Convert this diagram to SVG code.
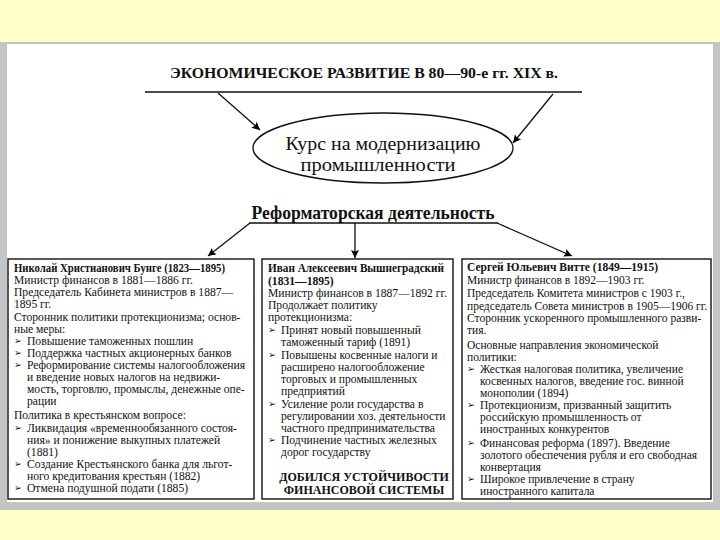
<svg xmlns="http://www.w3.org/2000/svg" width="720" height="540" viewBox="0 0 720 540">
<defs>
<marker id="ah" viewBox="0 0 10 10" refX="10" refY="5" markerWidth="10" markerHeight="8" markerUnits="userSpaceOnUse" orient="auto">
<path d="M0,0 L10,5 L0,10 L2,5 z" fill="#000"/>
</marker>
<style>
.t{font-family:"Liberation Serif","Times New Roman",serif;font-size:11.6px;fill:#111}
.w .t{font-size:11.5px}
.b{font-weight:bold}
.bul{font-family:"DejaVu Sans",sans-serif;font-size:9.5px;fill:#111}
.box{fill:#fff;stroke:#111;stroke-width:1.4}
.ln{stroke:#111;stroke-width:1.3;fill:none}
</style>
</defs>
<rect width="720" height="540" fill="#FFFFCA"/>
<rect x="0" y="42" width="720" height="468" fill="#C4C4C4"/>
<rect x="7" y="44" width="706" height="458" fill="#FFFFFF"/>

<g id="title">
<text x="364" y="78" text-anchor="middle" class="t b" style="font-size:15.5px" textLength="388" lengthAdjust="spacingAndGlyphs">ЭКОНОМИЧЕСКОЕ РАЗВИТИЕ В 80—90-е гг. XIX в.</text>
<line x1="145" y1="92" x2="582" y2="92" class="ln" style="stroke-width:1.6"/>
</g>

<g id="course">
<ellipse cx="383" cy="148" rx="130" ry="35" fill="#fff" stroke="#111" stroke-width="1.3"/>
<text x="383" y="150" text-anchor="middle" class="t" style="font-size:18px" textLength="195" lengthAdjust="spacingAndGlyphs">Курс на модернизацию</text>
<text x="378" y="171" text-anchor="middle" class="t" style="font-size:18px" textLength="155" lengthAdjust="spacingAndGlyphs">промышленности</text>
</g>

<g id="reform">
<text x="373" y="219" text-anchor="middle" class="t b" style="font-size:19px" textLength="243" lengthAdjust="spacingAndGlyphs">Реформаторская деятельность</text>
<line x1="249" y1="223" x2="498" y2="223" class="ln"/>
</g>

<g id="connectors">
<line x1="218" y1="93" x2="260" y2="130" class="ln" marker-end="url(#ah)"/>
<line x1="553" y1="94" x2="513" y2="143" class="ln" marker-end="url(#ah)"/>
<line x1="250" y1="223" x2="208" y2="256" class="ln" marker-end="url(#ah)"/>
<line x1="355" y1="223" x2="355" y2="258" class="ln" marker-end="url(#ah)"/>
<line x1="497" y1="223" x2="572" y2="256" class="ln" marker-end="url(#ah)"/>
</g>

<g id="bunge">
<rect x="8" y="259" width="246" height="240" class="box"/>
<text class="t b" x="14" y="272" textLength="211" lengthAdjust="spacingAndGlyphs">Николай Христианович Бунге (1823—1895)</text>
<text class="t" x="14" y="284">Министр финансов в 1881—1886 гг.</text>
<text class="t" x="14" y="296">Председатель Кабинета министров в 1887—</text>
<text class="t" x="14" y="308">1895 гг.</text>
<text class="t" x="14" y="321">Сторонник политики протекционизма; основ-</text>
<text class="t" x="14" y="333">ные меры:</text>
<text class="bul" x="14" y="344">➢</text><text class="t" x="27" y="345">Повышение таможенных пошлин</text>
<text class="bul" x="14" y="356">➢</text><text class="t" x="27" y="357">Поддержка частных акционерных банков</text>
<text class="bul" x="14" y="368">➢</text><text class="t" x="27" y="369">Реформирование системы налогообложения</text>
<text class="t" x="27" y="381">и введение новых налогов на недвижи-</text>
<text class="t" x="27" y="393">мость, торговлю, промыслы, денежные опе-</text>
<text class="t" x="27" y="405">рации</text>
<text class="t" x="14" y="419">Политика в крестьянском вопросе:</text>
<text class="bul" x="14" y="431">➢</text><text class="t" x="27" y="432">Ликвидация «временнообязанного состоя-</text>
<text class="t" x="27" y="444">ния» и понижение выкупных платежей</text>
<text class="t" x="27" y="456">(1881)</text>
<text class="bul" x="14" y="467">➢</text><text class="t" x="27" y="468">Создание Крестьянского банка для льгот-</text>
<text class="t" x="27" y="480">ного кредитования крестьян (1882)</text>
<text class="bul" x="14" y="491">➢</text><text class="t" x="27" y="492">Отмена подушной подати (1885)</text>
</g>

<g id="vyshnegradsky">
<rect x="262" y="259" width="191" height="240" class="box"/>
<text class="t b" x="268" y="272" textLength="176" lengthAdjust="spacingAndGlyphs">Иван Алексеевич Вышнеградский</text>
<text class="t b" x="268" y="285">(1831—1895)</text>
<text class="t" x="268" y="297">Министр финансов в 1887—1892 гг.</text>
<text class="t" x="268" y="309">Продолжает политику</text>
<text class="t" x="268" y="321">протекционизма:</text>
<text class="bul" x="268" y="333">➢</text><text class="t" x="281" y="334">Принят новый повышенный</text>
<text class="t" x="281" y="346">таможенный тариф (1891)</text>
<text class="bul" x="268" y="358">➢</text><text class="t" x="281" y="359">Повышены косвенные налоги и</text>
<text class="t" x="281" y="371">расширено налогообложение</text>
<text class="t" x="281" y="383">торговых и промышленных</text>
<text class="t" x="281" y="395">предприятий</text>
<text class="bul" x="268" y="407">➢</text><text class="t" x="281" y="408">Усиление роли государства в</text>
<text class="t" x="281" y="420">регулировании хоз. деятельности</text>
<text class="t" x="281" y="432">частного предпринимательства</text>
<text class="bul" x="268" y="443">➢</text><text class="t" x="281" y="444">Подчинение частных железных</text>
<text class="t" x="281" y="456">дорог государству</text>
<text class="t b" x="364" y="481" text-anchor="middle" style="font-size:12px">ДОБИЛСЯ УСТОЙЧИВОСТИ</text>
<text class="t b" x="364" y="494" text-anchor="middle" style="font-size:12px">ФИНАНСОВОЙ СИСТЕМЫ</text>
</g>

<g id="witte" class="w">
<rect x="462" y="259" width="249" height="240" class="box"/>
<text class="t b" x="467" y="271">Сергей Юльевич Витте (1849—1915)</text>
<text class="t" x="467" y="284">Министр финансов в 1892—1903 гг.</text>
<text class="t" x="467" y="297">Председатель Комитета министров с 1903 г.,</text>
<text class="t" x="467" y="310">председатель Совета министров в 1905—1906 гг.</text>
<text class="t" x="467" y="322">Сторонник ускоренного промышленного разви-</text>
<text class="t" x="467" y="334">тия.</text>
<text class="t" x="467" y="349">Основные направления экономической</text>
<text class="t" x="467" y="361">политики:</text>
<text class="bul" x="467" y="372">➢</text><text class="t" x="480" y="373">Жесткая налоговая политика, увеличение</text>
<text class="t" x="480" y="385">косвенных налогов, введение гос. винной</text>
<text class="t" x="480" y="397">монополии (1894)</text>
<text class="bul" x="467" y="408">➢</text><text class="t" x="480" y="409">Протекционизм, призванный защитить</text>
<text class="t" x="480" y="421">российскую промышленность от</text>
<text class="t" x="480" y="433">иностранных конкурентов</text>
<text class="bul" x="467" y="446">➢</text><text class="t" x="480" y="447">Финансовая реформа (1897). Введение</text>
<text class="t" x="480" y="459">золотого обеспечения рубля и его свободная</text>
<text class="t" x="480" y="471">конвертация</text>
<text class="bul" x="467" y="482">➢</text><text class="t" x="480" y="483">Широкое привлечение в страну</text>
<text class="t" x="480" y="495">иностранного капитала</text>
</g>
</svg>
